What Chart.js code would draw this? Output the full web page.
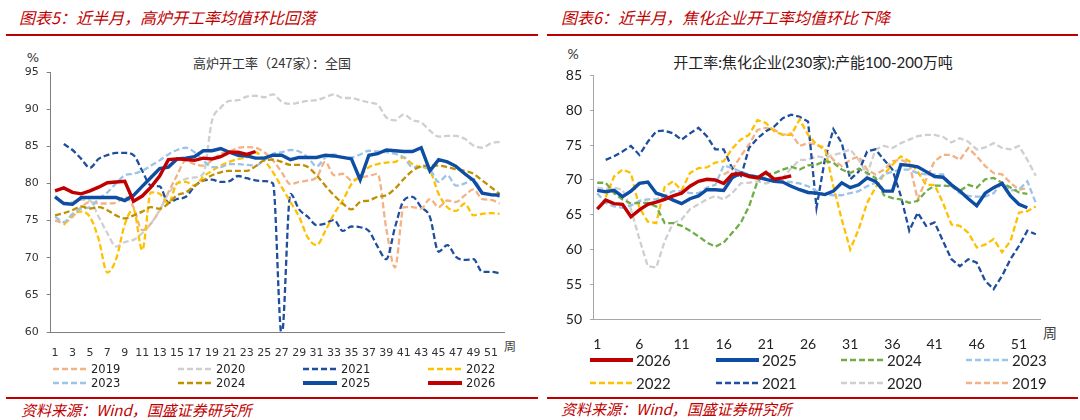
<!DOCTYPE html>
<html><head><meta charset="utf-8">
<script src="https://cdn.jsdelivr.net/npm/chart.js@4.4.1/dist/chart.umd.min.js"></script>
<style>
body{margin:0;width:1080px;height:420px;background:#fff;position:relative;overflow:hidden;font-family:"Noto Sans CJK SC",sans-serif}
.abs{position:absolute;white-space:nowrap}
.ttl{color:#C00000;font-size:16px;font-style:italic;line-height:20px}
.rule{position:absolute;height:2px;background:#C00000}
.src{color:#C00000;font-size:15px;font-style:italic;line-height:18px}
canvas{position:absolute}
.lg{position:absolute;display:flex;align-items:center;white-space:nowrap;height:16px}
.lg svg{display:block}
.ctr{transform:translateX(-50%)}
</style></head><body>
<div class="abs ttl" style="left:19px;top:7px">图表5：近半月，高炉开工率均值环比回落</div>
<div class="abs ttl" style="left:561px;top:7px">图表6：近半月，焦化企业开工率均值环比下降</div>
<div class="rule" style="left:6px;top:34px;width:532px"></div>
<div class="rule" style="left:547px;top:34px;width:531px"></div>
<div class="rule" style="left:6px;top:397px;width:532px"></div>
<div class="rule" style="left:547px;top:397px;width:531px"></div>
<div class="abs src" style="left:21px;top:401px">资料来源：Wind，国盛证券研究所</div>
<div class="abs src" style="left:561px;top:400px">资料来源：Wind，国盛证券研究所</div>

<div class="abs ctr" style="left:33px;top:50px;font-size:13px;color:#333;font-family:'DejaVu Sans'">%</div>
<div class="abs ctr" style="left:272px;top:53px;font-size:13px;color:#333">高炉开工率（247家）：全国</div>
<div class="abs ctr" style="left:510px;top:337px;font-size:12px;color:#404040">周</div>

<div class="abs ctr" style="left:573px;top:45px;font-size:14px;color:#333;font-family:Lato">%</div>
<div class="abs ctr" style="left:813px;top:51px;font-size:15px;color:#222;font-family:Lato,'Noto Sans CJK SC'">开工率:焦化企业(230家):产能100-200万吨</div>
<div class="abs ctr" style="left:1050px;top:322px;font-size:14px;color:#404040">周</div>

<canvas id="c1" width="540" height="320" style="left:0;top:42px"></canvas>
<canvas id="c2" width="535" height="310" style="left:545px;top:42px"></canvas>
<div id="leg"></div>

<script>
// ---------- Left chart: 高炉开工率（247家）：全国 ----------
const weeksL = Array.from({length: 52}, (_, i) => String(i + 1));
const L2019 = [75.0,74.7,75.5,76.8,77.5,77.3,77.3,77.4,78.2,76.8,73.7,74.6,76.4,78.8,81.1,83.1,82.6,82.4,83.1,84.0,84.3,84.8,84.9,84.8,84.2,83.1,81.5,79.9,80.2,80.4,80.8,82.9,81.1,81.3,80.4,80.8,81.0,81.3,73.9,68.7,76.8,76.8,76.6,77.9,76.8,77.7,77.5,78.4,79.2,77.9,77.8,77.3];
const L2020 = [78.3,77.4,77.5,77.8,77.7,75.5,73.3,71.5,72.1,72.4,73.3,74.6,76.4,78.6,80.0,80.6,80.8,81.3,88.4,90.2,91.1,91.2,91.7,91.8,91.6,92.0,91.0,90.7,90.9,91.1,91.2,91.6,92.0,91.5,91.5,91.2,90.9,90.6,88.9,88.5,89.3,88.5,88.2,87.1,86.3,86.4,86.4,86.0,85.1,84.8,85.4,85.6];
const L2021 = [null,85.3,84.5,83.3,82.1,83.3,83.8,84.1,84.1,83.8,81.7,79.7,79.6,77.4,77.9,78.2,79.6,80.4,80.5,80.2,80.3,81.0,80.7,80.4,80.3,80.0,59.5,78.6,76.5,75.5,74.4,74.6,75.1,73.6,74.2,74.1,73.6,71.5,69.8,74.1,77.7,78.2,76.8,75.5,70.8,71.7,70.1,69.7,69.8,68.1,68.1,67.9];
const L2022 = [null,74.4,75.8,76.2,75.5,72.5,68.0,69.8,74.5,76.5,71.0,78.8,78.6,77.3,80.0,80.2,79.7,80.9,81.7,82.4,82.9,83.3,83.5,84.2,83.1,81.5,79.5,77.5,75.5,72.7,71.7,73.6,75.9,77.7,79.9,81.0,82.2,82.6,82.8,82.9,83.5,82.6,82.2,81.7,78.6,76.8,76.3,77.3,75.7,75.9,76.0,75.9];
const L2023 = [75.5,74.8,75.9,76.6,76.8,77.9,78.8,80.0,81.1,81.3,81.7,82.4,83.1,83.9,84.5,84.8,84.2,83.1,82.2,82.2,82.6,82.6,82.5,82.4,83.1,84.0,84.2,84.5,84.3,83.5,82.3,83.5,83.9,83.5,83.5,83.9,84.4,84.3,84.2,84.0,83.5,82.2,82.2,81.9,80.2,81.1,79.7,80.0,80.6,78.8,78.4,78.2];
const L2024 = [75.7,76.0,76.4,76.9,76.6,76.8,76.4,75.7,75.3,75.7,76.2,76.8,76.6,77.3,78.4,78.8,79.7,80.4,81.1,81.5,81.7,81.7,81.7,82.3,83.1,83.2,82.9,82.5,82.5,82.2,81.1,79.7,78.4,77.3,76.5,77.5,77.7,78.2,78.4,79.3,80.6,81.7,82.3,82.4,82.4,82.2,81.9,81.7,81.3,80.4,79.5,78.6];
const L2025 = [78.2,77.3,77.2,78.1,78.1,78.1,78.1,78.1,77.7,78.4,79.6,80.8,82.0,82.2,83.3,83.4,83.6,84.4,84.4,84.7,84.2,83.8,83.7,83.4,83.4,83.8,83.8,83.2,83.5,83.5,83.5,83.8,83.7,83.5,83.3,80.5,83.8,84.0,84.5,84.4,84.3,84.3,84.8,81.7,83.2,82.9,82.3,81.3,80.4,78.7,78.5,78.4];
const L2026 = [79.0,79.4,78.8,78.6,79.0,79.5,80.1,80.2,80.3,77.6,78.3,79.5,81.0,83.2,83.3,83.2,83.1,83.4,83.3,83.6,84.2,84.2,83.9,84.3];

// ---------- Right chart: 开工率:焦化企业(230家):产能100-200万吨 ----------
const weeksR = Array.from({length: 53}, (_, i) => String(i + 1));
const R2019 = [null,null,null,null,null,null,null,null,null,null,null,null,null,null,null,70.8,71.5,73.4,75.1,77.2,77.5,77.2,76.5,76.7,74.9,75.3,75.1,74.3,72.9,72.0,72.9,73.4,71.5,70.8,71.5,72.7,72.9,72.4,67.2,70.1,72.7,73.6,73.6,72.9,74.6,73.4,72.0,71.0,70.8,69.6,68.6,68.8];
const R2020 = [68.9,68.7,68.9,68.6,65.8,61.5,57.6,57.4,61.2,63.8,64.3,65.8,66.5,67.2,67.7,67.2,68.1,69.5,69.6,69.8,69.5,69.8,70.3,71.7,72.9,72.9,73.4,73.2,73.6,73.9,74.4,72.9,70.8,74.4,74.9,74.6,75.3,75.8,76.3,76.5,76.5,76.2,75.4,76.0,75.5,74.4,74.7,75.3,74.6,74.4,74.9,72.9,70.6];
const R2021 = [null,72.9,73.4,74.1,74.9,73.6,75.5,77.0,77.1,76.7,75.8,76.7,77.5,76.3,74.4,74.4,71.7,70.3,74.6,76.0,77.0,77.7,78.9,79.4,79.1,78.4,66.0,73.0,77.3,75.3,70.1,71.2,74.1,74.4,72.9,71.5,67.7,62.7,65.3,63.4,63.9,61.2,58.6,57.6,58.6,58.1,55.5,54.3,56.2,58.6,60.5,62.7,62.2];
const R2022 = [null,67.5,70.5,71.5,71.0,66.0,64.0,63.8,69.0,69.8,68.5,71.0,71.7,71.8,72.5,72.7,74.5,75.8,76.5,78.6,78.2,77.0,76.5,76.5,78.7,76.5,75.1,74.6,69.1,64.3,60.0,62.9,66.7,68.9,70.8,72.2,73.4,72.7,71.2,69.3,69.3,66.7,63.6,63.4,62.4,60.3,60.7,61.5,59.6,61.2,65.3,65.5,66.2];
const R2023 = [68.1,66.7,66.2,66.0,66.3,67.0,67.2,67.2,67.7,68.4,68.4,68.1,68.1,68.9,69.3,72.1,71.7,71.2,70.8,70.5,70.3,70.1,69.8,69.7,69.5,69.1,68.4,67.9,67.8,67.8,68.1,68.4,69.1,69.6,70.8,71.2,71.5,71.5,71.0,70.8,70.8,70.8,69.1,68.1,67.7,67.6,67.6,68.1,69.6,68.5,68.6,69.8,66.7];
const R2024 = [69.6,69.6,68.1,67.2,66.6,66.7,66.7,66.2,63.8,63.8,63.4,62.7,61.9,61.0,60.4,61.0,62.4,63.8,66.2,69.8,70.8,71.0,71.5,71.9,71.5,72.1,72.2,72.7,72.5,71.5,71.0,71.6,71.0,70.3,67.8,67.4,67.2,66.7,67.0,68.4,69.2,69.2,69.1,68.4,69.3,68.9,70.1,70.3,69.6,68.9,68.2,68.0];
const R2025 = [68.5,68.3,68.5,67.6,68.4,69.5,69.7,68.1,67.7,67.1,66.6,67.3,67.7,68.6,68.6,68.5,70.3,71.0,70.6,70.4,70.1,69.8,69.7,69.1,68.6,68.2,68.1,67.9,68.4,69.6,68.9,69.3,70.3,69.8,68.4,68.4,72.2,72.1,71.9,71.2,70.5,70.4,69.3,68.4,67.3,66.3,68.1,68.9,69.5,67.7,66.5,66.0];
const R2026 = [65.8,67.1,66.6,66.5,64.7,65.7,66.5,66.8,67.2,67.7,68.1,69.1,69.8,70.1,70.0,69.5,70.8,70.9,70.5,70.3,71.1,70.1,70.3,70.6];

// ---------- styling ----------
const C = {
  red: '#C00000', blue: '#0E4DA4', dblue: '#1F4E9E', gray: '#CFCFCF', salmon: '#F4B183',
  yellow: '#FFC000', lblue: '#9DC3E6', gold: '#BF9000', green: '#70AD47'
};
function line(label, data, color, dashed, smooth) {
  return {
    label, data, borderColor: color, backgroundColor: color,
    borderWidth: dashed ? 2.3 : 3.4, borderDash: dashed ? [6, 3] : [],
    pointRadius: 0, fill: false, tension: 0, spanGaps: false,
    cubicInterpolationMode: smooth ? 'monotone' : 'default'
  };
}
Chart.defaults.animation = false;
Chart.defaults.color = '#404040';

// Left: draw order -> first dataset on top
const leftSets = [
  line('2026', L2026, C.red, false, false),
  line('2025', L2025, C.blue, false, false),
  line('2024', L2024, C.gold, true, true),
  line('2023', L2023, C.lblue, true, true),
  line('2022', L2022, C.yellow, true, true),
  line('2021', L2021, C.dblue, true, true),
  line('2020', L2020, C.gray, true, true),
  line('2019', L2019, C.salmon, true, true)
];
new Chart(document.getElementById('c1'), {
  type: 'line',
  data: { labels: weeksL, datasets: leftSets },
  options: {
    responsive: false, devicePixelRatio: 1,
    layout: { padding: { left: 0, top: 30, right: 36, bottom: 0 } },
    plugins: { legend: { display: false }, tooltip: { enabled: false } },
    scales: {
      x: {
        offset: true,
        grid: { display: false },
        border: { display: true, color: '#7F7F7F', width: 1 },
        ticks: { autoSkip: false, maxRotation: 0, minRotation: 0, padding: 7,
          font: { family: 'DejaVu Sans', size: 11 }, color: '#333',
          callback: function (v, i) { return (i % 2 === 0) ? weeksL[i] : ''; } },
        afterFit: s => { s.height = 30; }
      },
      y: {
        min: 60, max: 95,
        grid: { drawOnChartArea: false, drawTicks: true, tickLength: 4, color: '#7F7F7F' },
        border: { display: true, color: '#7F7F7F', width: 1 },
        ticks: { stepSize: 5, padding: 8, font: { family: 'DejaVu Sans', size: 11 }, color: '#333' },
        afterFit: s => { s.width = 50.7; }
      }
    }
  }
});

const rightSets = [
  line('2026', R2026, C.red, false, false),
  line('2025', R2025, C.blue, false, false),
  line('2024', R2024, C.green, true, false),
  line('2023', R2023, C.lblue, true, false),
  line('2022', R2022, C.yellow, true, false),
  line('2021', R2021, C.dblue, true, false),
  line('2020', R2020, C.gray, true, false),
  line('2019', R2019, C.salmon, true, false)
];
new Chart(document.getElementById('c2'), {
  type: 'line',
  data: { labels: weeksR, datasets: rightSets },
  options: {
    responsive: false, devicePixelRatio: 1,
    layout: { padding: { left: 0, top: 33.7, right: 40, bottom: 0 } },
    plugins: { legend: { display: false }, tooltip: { enabled: false } },
    scales: {
      x: {
        offset: true,
        grid: { display: false },
        border: { display: true, color: '#A6A6A6', width: 1 },
        ticks: { autoSkip: false, maxRotation: 0, minRotation: 0, padding: 9.5,
          font: { family: 'Lato', size: 14 }, color: '#222',
          callback: function (v, i) { return (i % 5 === 0) ? weeksR[i] : ''; } },
        afterFit: s => { s.height = 33; }
      },
      y: {
        min: 50, max: 85,
        grid: { drawOnChartArea: false, drawTicks: true, tickLength: 3, color: '#A6A6A6' },
        border: { display: true, color: '#A6A6A6', width: 1 },
        ticks: { stepSize: 5, padding: 8, font: { family: 'Lato', size: 14 }, color: '#222' },
        afterFit: s => { s.width = 48; }
      }
    }
  }
});

// ---------- HTML legends built from the datasets ----------
function legend(sets, order, colX, rowY, len, gapPx, fontCss) {
  const host = document.getElementById('leg');
  order.forEach((lab, i) => {
    const d = sets.find(s => s.label === lab);
    const c = i % 4, r = Math.floor(i / 4);
    const el = document.createElement('div');
    el.className = 'lg';
    el.style.left = colX[c] + 'px';
    el.style.top = (rowY[r] - 8) + 'px';
    const dash = d.borderDash.length ? `stroke-dasharray="${d.borderDash.join(' ')}"` : '';
    el.innerHTML = `<svg width="${len}" height="16"><line x1="0" y1="8" x2="${len}" y2="8" stroke="${d.borderColor}" stroke-width="${d.borderWidth + 0.4}" ${dash}/></svg>` +
      `<span style="margin-left:${gapPx}px;${fontCss}">${d.label}</span>`;
    host.appendChild(el);
  });
}
legend(leftSets, ['2019','2020','2021','2022','2023','2024','2025','2026'],
  [53, 178, 303, 428], [369, 383], 34, 4, "font-family:'DejaVu Sans';font-size:11.5px;color:#222;line-height:16px");
legend(rightSets, ['2026','2025','2024','2023','2022','2021','2020','2019'],
  [590, 716, 841, 966], [360, 383], 43, 3, "font-family:Lato;font-size:15px;color:#222;line-height:16px");
</script>
</body></html>
